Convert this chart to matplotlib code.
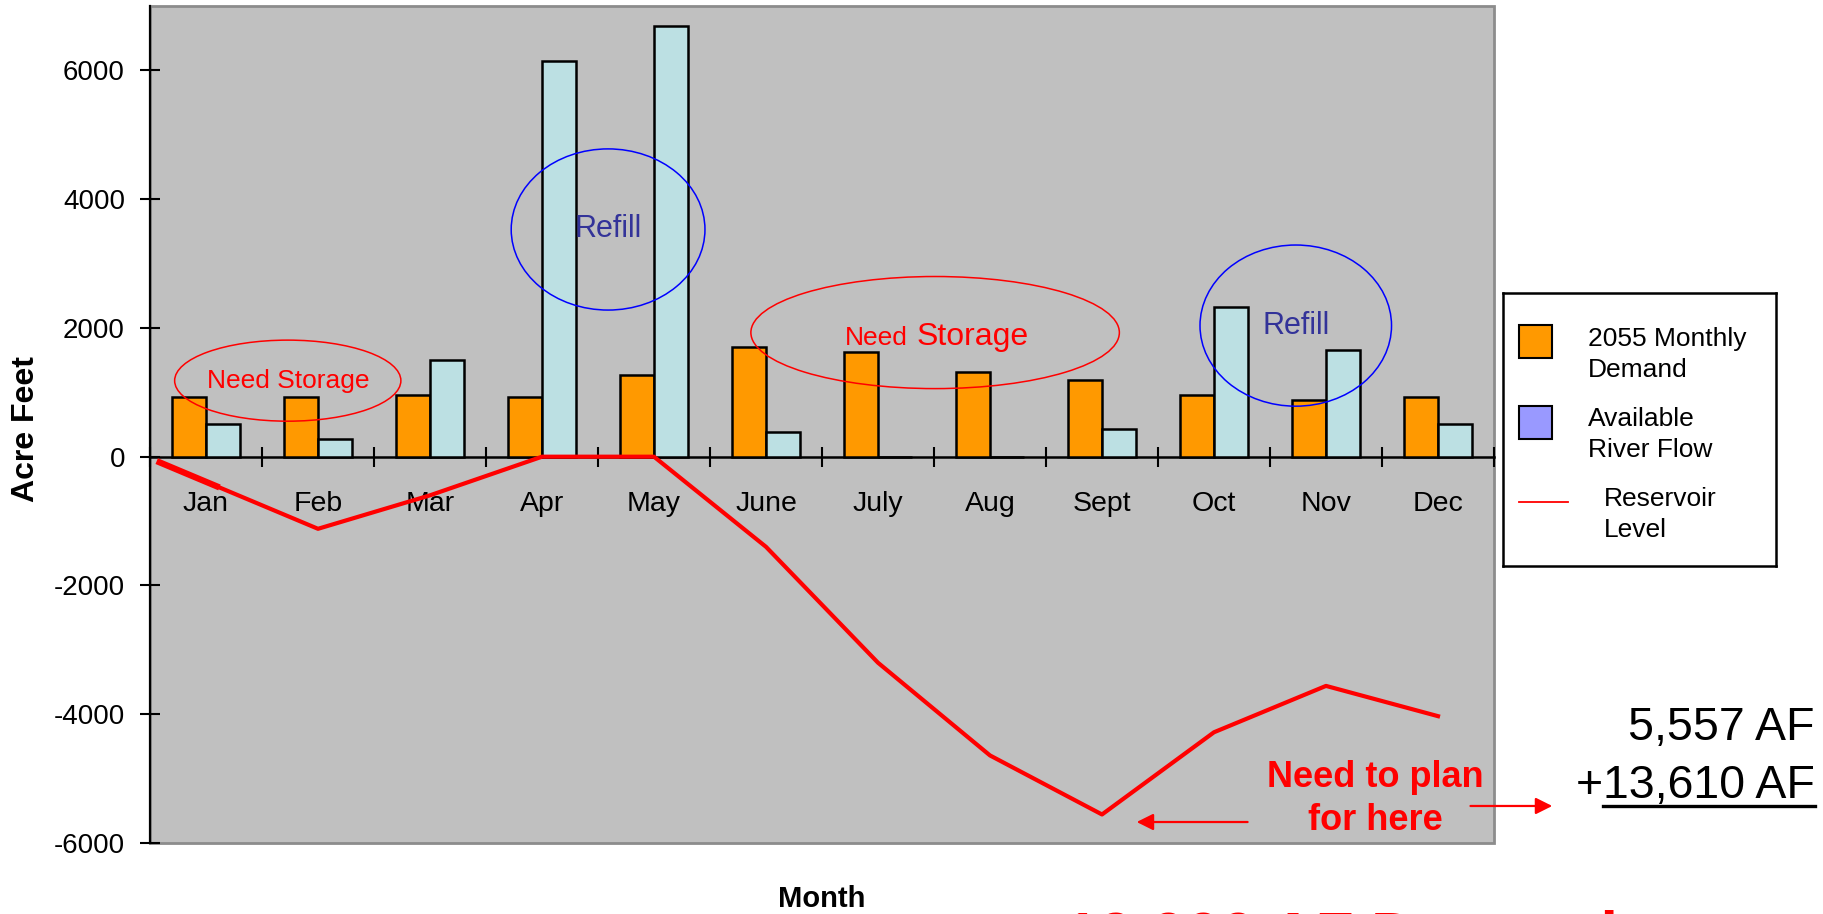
import matplotlib
matplotlib.use('Agg')
import numpy as np
import matplotlib.pyplot as plt
from matplotlib.patches import Ellipse, Rectangle
from matplotlib.lines import Line2D

plt.rcParams['font.family'] = ['Liberation Sans', 'DejaVu Sans']
plt.rcParams['axes.unicode_minus'] = False

months = ['Jan', 'Feb', 'Mar', 'Apr', 'May', 'June', 'July', 'Aug', 'Sept',
          'Oct', 'Nov', 'Dec']
demand_2055 = [920, 920, 960, 920, 1270, 1700, 1620, 1310, 1190, 965, 880, 920]
river_flow = [500, 270, 1500, 6140, 6690, 380, 0, 0, 430, 2320, 1660, 500]
reservoir_level = [-390, -1120, -600, 0, 0, -1400, -3200, -4640, -5557,
                   -4280, -3560, -4030]
extra_af = 13610
labels = ['2055 Monthly\nDemand', 'Available\nRiver Flow', 'Reservoir\nLevel']

ORANGE = '#FF9900'
FLOW = '#BCE0E3'
RED = '#FF0000'

W, H = 1823, 914
fig = plt.figure(figsize=(W / 100, H / 100), dpi=100)


def px(x, y):
    # figure pixel (from top-left) -> figure fraction
    return x / W, 1 - y / H


ax = fig.add_axes([150 / W, 1 - 843 / H, 1344 / W, 837 / H])
ax.set_facecolor('#C0C0C0')
ax.patch.set_edgecolor('#8C8C8C')
ax.patch.set_linewidth(2)

x = np.arange(len(months))
bw = 0.3
ax.bar(x - bw / 2, demand_2055, bw, color=ORANGE, edgecolor='black',
       linewidth=1.8, zorder=3)
ax.bar(x + bw / 2, river_flow, bw, color=FLOW, edgecolor='black',
       linewidth=1.8, zorder=3)

# reservoir line, plus the short heavier stub that runs in from the axis
ax.plot(x, reservoir_level, color=RED, lw=3, zorder=5)
r0, r1 = reservoir_level[0], reservoir_level[1]
sx = np.array([-0.44, 0.12])
ax.plot(sx, r0 + sx * (r1 - r0), color=RED, lw=4.5, zorder=5,
        solid_capstyle='butt')

ax.set_xlim(-0.5, 11.5)
ax.set_ylim(-6000, 7000)
ax.set_yticks(range(-6000, 6001, 2000))
ax.set_xticks(np.arange(-0.5, 11.6, 1))
ax.set_xticks(x, minor=True)
ax.set_xticklabels(months, minor=True)
ax.tick_params(axis='x', which='major', direction='inout', length=14,
               width=1.5, labelbottom=False)
ax.tick_params(axis='x', which='minor', length=0, pad=25, labelsize=20.5)
ax.tick_params(axis='y', direction='inout', length=14, width=1.5, pad=11,
               labelsize=20)

ax.spines['bottom'].set_position(('data', 0))
ax.spines['bottom'].set_linewidth(1.8)
ax.spines['left'].set_linewidth(1.6)
ax.spines['top'].set_visible(False)
ax.spines['right'].set_visible(False)

ax.set_ylabel('Acre Feet', fontsize=23, fontweight='bold', va='center')
ax.yaxis.set_label_coords(-0.092, 0.494)
ax.set_xlabel('Month', fontsize=21, fontweight='bold', va='baseline')
ax.xaxis.set_label_coords(0.5, -0.0765)

# storage / refill callouts
ax.add_patch(Ellipse((0.73, 1181), 2.02, 1259, fill=False, ec=RED, lw=1.1,
                     zorder=6))
ax.text(0.73, 1181, 'Need Storage', color=RED, fontsize=19, ha='center',
        va='center', zorder=6)

ax.add_patch(Ellipse((3.59, 3529), 1.73, 2503, fill=False, ec='#0000FF',
                     lw=1.1, zorder=6))
ax.text(3.59, 3529, 'Refill', color='#333399', fontsize=22, ha='center',
        va='center', zorder=6)

ax.add_patch(Ellipse((6.51, 1928), 3.29, 1741, fill=False, ec=RED, lw=1.1,
                     zorder=6))
ax.text(5.705, 1741, 'Need', color=RED, fontsize=19, va='baseline', zorder=6)
ax.text(6.34, 1741, 'Storage', color=RED, fontsize=23, va='baseline',
        zorder=6)

ax.add_patch(Ellipse((9.73, 2036), 1.71, 2503, fill=False, ec='#0000FF',
                     lw=1.1, zorder=6))
ax.text(9.73, 2036, 'Refill', color='#333399', fontsize=22, ha='center',
        va='center', zorder=6)

arrow = dict(arrowstyle='-|>', color=RED, lw=1.6, mutation_scale=25,
             shrinkA=0, shrinkB=0)
ax.annotate('', xy=(8.31, -5674), xytext=(9.30, -5674), arrowprops=arrow,
            zorder=6)
ax.annotate('', xy=(12.02, -5425), xytext=(11.29, -5425), arrowprops=arrow,
            annotation_clip=False, zorder=6)

fig.text(*px(1375, 787), 'Need to plan', color=RED, fontsize=26,
         fontweight='bold', ha='center', va='baseline')
fig.text(*px(1375, 830), 'for here', color=RED, fontsize=26,
         fontweight='bold', ha='center', va='baseline')

# storage totals at the right
deficit = -min(reservoir_level)
fig.text(*px(1815, 740), f'{deficit:,} AF', fontsize=33.5, ha='right',
         va='baseline')
t_extra = fig.text(*px(1815, 798), f'{extra_af:,} AF', fontsize=33.5,
                   ha='right', va='baseline')
renderer = fig.canvas.get_renderer()
bb = t_extra.get_window_extent(renderer)
fig.text(bb.x0 / W, 1 - 798 / H, '+', fontsize=33.5, ha='right',
         va='baseline')
fig.add_artist(Line2D([bb.x0 / W, bb.x1 / W], [1 - 806 / H, 1 - 806 / H],
                      color='black', lw=2.4))

fig.text(*px(1064, 956), f'{round(deficit + extra_af, -3):,.0f} AF Demand',
         color=RED, fontsize=45, fontweight='bold', va='baseline')

# legend box
lax = fig.add_axes([1503 / W, 1 - 566 / H, 273 / W, 273 / H])
lax.set_xlim(0, 273)
lax.set_ylim(273, 0)
lax.set_xticks([])
lax.set_yticks([])
for s in lax.spines.values():
    s.set_linewidth(1.8)
lax.add_patch(Rectangle((16, 32), 33, 33, fc=ORANGE, ec='black', lw=1.5))
lax.add_patch(Rectangle((16, 113), 33, 33, fc='#9999FF', ec='black', lw=1.5))
lax.plot([16, 65], [209, 209], color=RED, lw=1.3)
text_pos = [(85, 53), (85, 133), (101, 213)]
for lab, (tx, ty) in zip(labels, text_pos):
    for k, line in enumerate(lab.split('\n')):
        lax.text(tx, ty + 31 * k, line, fontsize=19, va='baseline')

fig.savefig('out.png', dpi=100)
